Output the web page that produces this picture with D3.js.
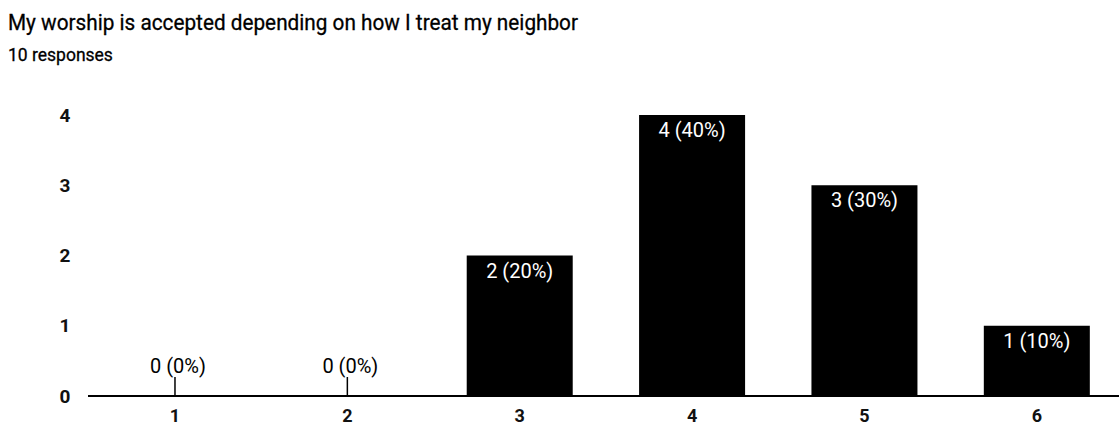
<!DOCTYPE html>
<html><head><meta charset="utf-8">
<script src="https://cdn.jsdelivr.net/npm/d3@7"></script>
<style>body{margin:0;background:#fff;} text{font-family:Roboto, "Noto Sans", sans-serif;}</style>
</head><body>
<svg id="c" width="1119" height="429"></svg>
<script>
const categories = ["1","2","3","4","5","6"];
const values = [0,0,2,4,3,1];
const labels = ["0 (0%)","0 (0%)","2 (20%)","4 (40%)","3 (30%)","1 (10%)"];
const yTicks = [0,1,2,3,4];
const title = "My worship is accepted depending on how I treat my neighbor";
const subtitle = "10 responses";

const svg = d3.select("#c");
svg.append("text").attr("x",8).attr("y",30).attr("font-size",22.5).attr("fill","#000")
  .attr("stroke","#000").attr("stroke-width",0.3)
  .attr("textLength",570).attr("lengthAdjust","spacingAndGlyphs").text(title);
svg.append("text").attr("x",8).attr("y",61).attr("font-size",17.5).attr("fill","#000")
  .attr("stroke","#000").attr("stroke-width",0.3).text(subtitle);

const x = d3.scaleBand().domain(categories).range([88.8,1123]).paddingInner(0.385).paddingOuter(0.1925);
const y = d3.scaleLinear().domain([0,4]).range([396,115]);

// y tick labels
svg.append("g").selectAll("text").data(yTicks).join("text")
  .attr("x",65).attr("y",d=>y(d)).attr("dy","0.35em").attr("text-anchor","middle")
  .attr("font-size",19).attr("font-weight",700).attr("fill","#111").text(d=>d);

// bars
svg.append("g").selectAll("rect").data(values).join("rect")
  .attr("x",(d,i)=>x(categories[i])).attr("width",x.bandwidth())
  .attr("y",d=>y(d)).attr("height",d=>y(0)-y(d)).attr("fill","#000");

// zero markers
values.forEach((v,i)=>{
  if(v===0){
    const cx = x(categories[i])+x.bandwidth()/2;
    svg.append("line").attr("x1",cx).attr("x2",cx).attr("y1",y(0)-19).attr("y2",y(0)).attr("stroke","#000").attr("stroke-width",1.5);
  }
});

// labels
svg.append("g").selectAll("text").data(values).join("text")
  .attr("x",(d,i)=>x(categories[i])+x.bandwidth()/2 + (d===0?3:0))
  .attr("y",d=> d===0 ? y(0)-23 : y(d)+22)
  .attr("text-anchor","middle").attr("font-size",20)
  .attr("fill",d=> d===0 ? "#000" : "#fff")
  .text((d,i)=>labels[i]);

// x axis line
svg.append("line").attr("x1",88).attr("x2",1119).attr("y1",y(0)).attr("y2",y(0)).attr("stroke","#000").attr("stroke-width",2);

// x tick labels
svg.append("g").selectAll("text").data(categories).join("text")
  .attr("x",d=>x(d)+x.bandwidth()/2).attr("y",416).attr("dy","0.35em").attr("text-anchor","middle")
  .attr("font-size",18).attr("font-weight",700).attr("fill","#111").text(d=>d);
</script>
</body></html>
